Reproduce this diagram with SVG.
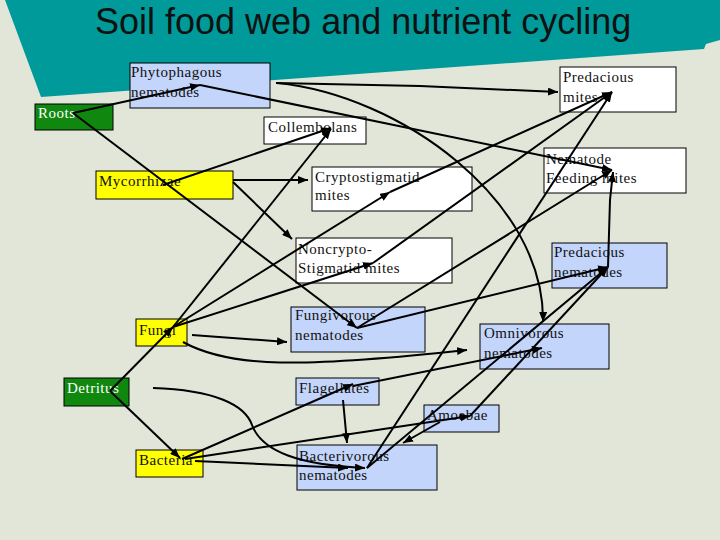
<svg xmlns="http://www.w3.org/2000/svg" width="720" height="540" viewBox="0 0 720 540">
<style>
.bg{fill:#E1E6D9}
.box{stroke:#000;stroke-width:1}
.blue{fill:#C3D5FA}
.white{fill:#FFFFFF}
.yellow{fill:#FFFF00}
.green{fill:#108810}
.t{font-family:"Liberation Serif","Times New Roman",serif;font-size:15px;letter-spacing:0.5px;fill:#111}
.tw{fill:#FFFFFF}
.title{font-family:"Liberation Sans",Arial,sans-serif;font-size:36px;fill:#111}
#connectors path{fill:none;stroke:#000;stroke-width:2}
</style>
<defs>
<marker id="ah" markerUnits="userSpaceOnUse" markerWidth="10" markerHeight="8" refX="10" refY="4" orient="auto">
<path d="M0,0 L10,4 L0,8 z" fill="#000"/>
</marker>
</defs>
<rect class="bg" x="0" y="0" width="720" height="540"/>
<polygon points="5,0 720,0 720,40 706,44 704,49 41,97" fill="#009A9A"/>
<text class="title" x="95" y="34">Soil food web and nutrient cycling</text>

<g id="phytophagous"><rect class="box blue" x="130" y="63" width="140" height="45"/><text class="t" x="131" y="77">Phytophagous</text><text class="t" x="131" y="97">nematodes</text></g>
<g id="roots"><rect class="box green" x="35" y="104" width="78" height="26"/><text class="t tw" x="38" y="118">Roots</text></g>
<g id="collembolans"><rect class="box white" x="264" y="117" width="102" height="27"/><text class="t" x="268" y="132">Collembolans</text></g>
<g id="predacious-mites"><rect class="box white" x="560" y="67" width="116" height="45"/><text class="t" x="563" y="82">Predacious</text><text class="t" x="563" y="102">mites</text></g>
<g id="mycorrhizae"><rect class="box yellow" x="96" y="171" width="137" height="28"/><text class="t" x="99" y="186">Mycorrhizae</text></g>
<g id="cryptostigmatid"><rect class="box white" x="312" y="167" width="160" height="44"/><text class="t" x="315" y="182">Cryptostigmatid</text><text class="t" x="315" y="200">mites</text></g>
<g id="nematode-feeding-mites"><rect class="box white" x="544" y="148" width="142" height="45"/><text class="t" x="546" y="164">Nematode</text><text class="t" x="546" y="183">Feeding mites</text></g>
<g id="noncryptostigmatid"><rect class="box white" x="296" y="238" width="156" height="45"/><text class="t" x="298" y="254">Noncrypto-</text><text class="t" x="298" y="273">Stigmatid mites</text></g>
<g id="predacious-nematodes"><rect class="box blue" x="552" y="243" width="115" height="45"/><text class="t" x="554" y="257">Predacious</text><text class="t" x="554" y="277">nematodes</text></g>
<g id="fungi"><rect class="box yellow" x="136" y="319" width="51" height="27"/><text class="t" x="139" y="335">Fungi</text></g>
<g id="fungivorous"><rect class="box blue" x="291" y="307" width="134" height="45"/><text class="t" x="295" y="320">Fungivorous</text><text class="t" x="295" y="340">nematodes</text></g>
<g id="omnivorous"><rect class="box blue" x="480" y="324" width="129" height="45"/><text class="t" x="484" y="338">Omnivorous</text><text class="t" x="484" y="358">nematodes</text></g>
<g id="detritus"><rect class="box green" x="64" y="378" width="65" height="28"/><text class="t tw" x="67" y="393">Detritus</text></g>
<g id="flagellates"><rect class="box blue" x="296" y="378" width="83" height="27"/><text class="t" x="299" y="393">Flagellates</text></g>
<g id="amoebae"><rect class="box blue" x="424" y="405" width="75" height="27"/><text class="t" x="427" y="420">Amoebae</text></g>
<g id="bacteria"><rect class="box yellow" x="136" y="450" width="67" height="27"/><text class="t" x="139" y="465">Bacteria</text></g>
<g id="bacterivorous"><rect class="box blue" x="297" y="445" width="140" height="45"/><text class="t" x="299" y="461">Bacterivorous</text><text class="t" x="299" y="480">nematodes</text></g>

<g id="connectors" marker-end="url(#ah)">
<path d="M73,113 L200,85" marker-end="url(#ah)"/>
<path d="M200,85 L612,170" marker-end="url(#ah)"/>
<path d="M276,83 L420,86 L558,92" marker-end="url(#ah)"/>
<path d="M277,83 C400,95 545,200 543,322" marker-end="url(#ah)"/>
<path d="M73,113 L357,328" marker-end="url(#ah)"/>
<path d="M163,185 L331,128" marker-end="url(#ah)"/>
<path d="M233,180 L308,180" marker-end="url(#ah)"/>
<path d="M233,182 L292,239" marker-end="url(#ah)"/>
<path d="M173,327 L331,129" marker-end="url(#ah)"/>
<path d="M173,327 L390,192" marker-end="url(#ah)"/>
<path d="M390,192 L612,92" marker-end="url(#ah)"/>
<path d="M173,327 L373,263" marker-end="url(#ah)"/>
<path d="M373,263 L612,92" marker-end="url(#ah)"/>
<path d="M192,335 L287,342" marker-end="url(#ah)"/>
<path d="M183,342 C230,368 300,368 467,350" marker-end="url(#ah)"/>
<path d="M357,328 L612,170" marker-end="url(#ah)"/>
<path d="M357,328 L608,267" marker-end="url(#ah)"/>
<path d="M608,267 L610,200 L613,172" marker-end="url(#ah)"/>
<path d="M110,391 L173,327" marker-end="url(#ah)"/>
<path d="M110,391 L180,458" marker-end="url(#ah)"/>
<path d="M153,388 C215,390 245,405 252,425 C262,452 300,465 365,468" marker-end="url(#ah)"/>
<path d="M182,459 L353,384" marker-end="url(#ah)"/>
<path d="M353,386 L542,348" marker-end="url(#ah)"/>
<path d="M185,459 L470,416" marker-end="url(#ah)"/>
<path d="M195,461 L348,468" marker-end="url(#ah)"/>
<path d="M343,400 L347,443" marker-end="url(#ah)"/>
<path d="M440,422 L403,443" marker-end="url(#ah)"/>
<path d="M367,468 L612,92" marker-end="url(#ah)"/>
<path d="M367,468 L608,267" marker-end="url(#ah)"/>
<path d="M470,416 L608,267" marker-end="url(#ah)"/>
</g>
</svg>
